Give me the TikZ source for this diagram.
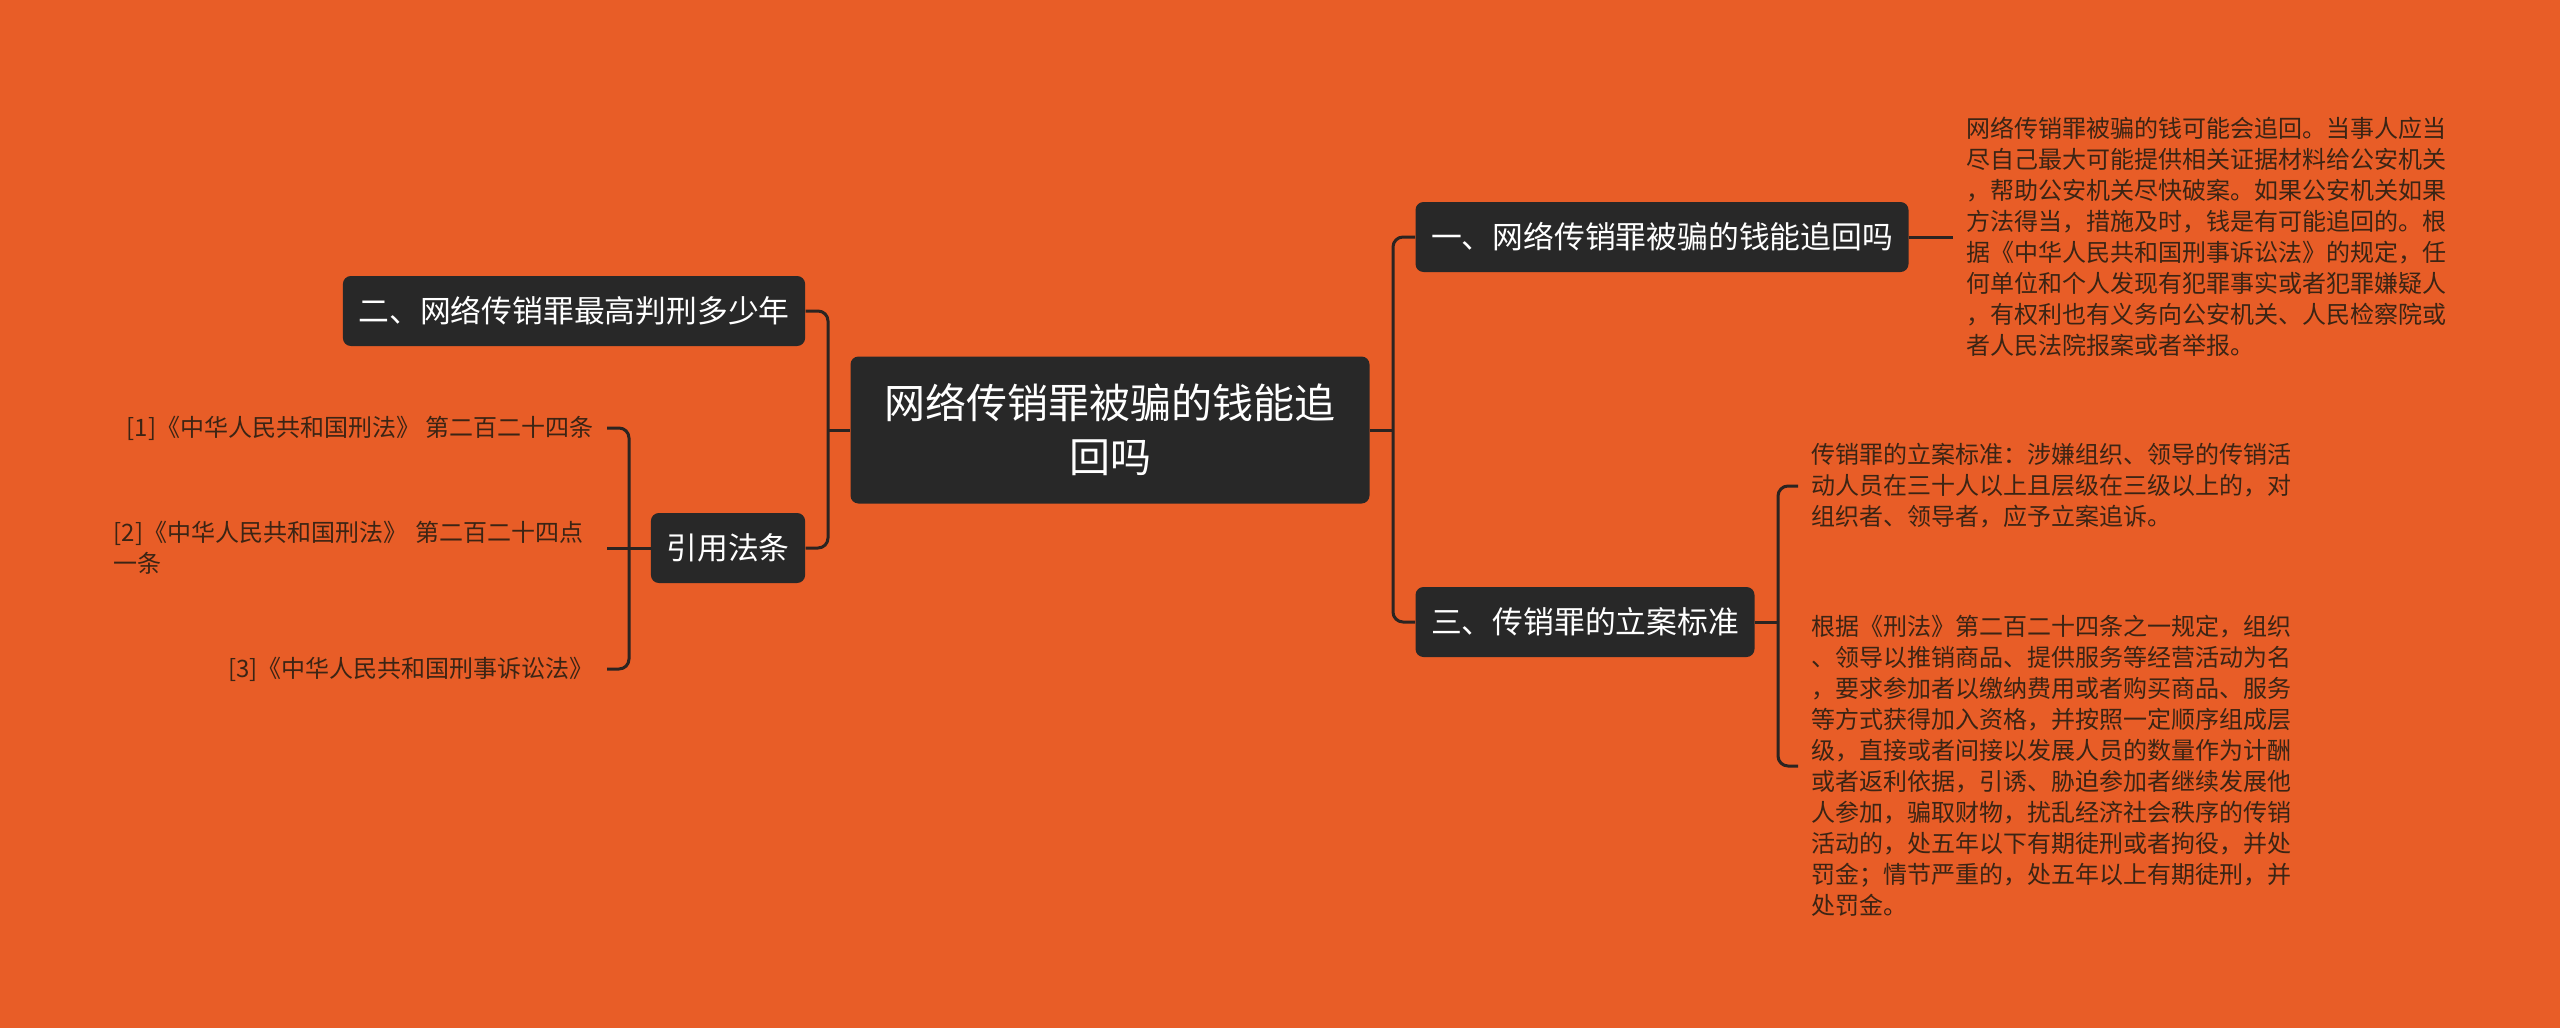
\documentclass[tikz,border=0pt]{standalone}
\usepackage{fontspec}
\setmainfont{Noto Sans CJK SC}
\usepackage{tikz}
\usetikzlibrary{positioning}

\definecolor{bgorange}{HTML}{E85D27}
\definecolor{boxgray}{HTML}{282828}
\definecolor{linedark}{HTML}{2B2421}
\definecolor{leafbrown}{HTML}{3B2414}

\begin{document}
\begin{tikzpicture}[
        x=0.5pt, y=-0.5pt, % one unit = one pixel of the reference
        rootbox/.style={fill=boxgray, text=white, rounded corners=4pt, align=center,
                        font=\fontsize{20.5}{27}\selectfont,
                        minimum width=259.5pt, minimum height=73.5pt},
        topic/.style={fill=boxgray, text=white, rounded corners=4pt,
                      font=\fontsize{15.4}{18}\selectfont,
                      inner xsep=7.75pt, minimum height=35pt},
        leaf/.style={text=leafbrown, align=left, inner xsep=6.5pt, inner ysep=0pt,
                     font=\fontsize{12}{15.5}\selectfont},
        link/.style={draw=linedark, line width=1.5pt, rounded corners=5pt}
    ]
    \fill[bgorange] (0,0) rectangle (2560,1028);
    \useasboundingbox (0,0) rectangle (2560,1028);

    \node[rootbox] (root) at (1110,430) {网络传销罪被骗的钱能追\\回吗};

    % left side
    \node[topic] (penalty) at (574,311) {二、网络传销罪最高判刑多少年};
    \node[topic] (cite) at (728,548) {引用法条};
    \node[leaf, anchor=east] (law1) at (607,428) {[1]《中华人民共和国刑法》 第二百二十四条};
    \node[leaf, anchor=east, text width=240pt] (law2) at (607,548)
        {[2]《中华人民共和国刑法》 第二百二十四点\\一条};
    \node[leaf, anchor=east] (law3) at (607,669) {[3]《中华人民共和国刑事诉讼法》};

    % right side
    \node[topic] (recover) at (1662,237) {一、网络传销罪被骗的钱能追回吗};
    \node[topic] (standard) at (1585,622) {三、传销罪的立案标准};
    \node[leaf, anchor=west] (recoverText) at (1953,237)
        {网络传销罪被骗的钱可能会追回。当事人应当\\
         尽自己最大可能提供相关证据材料给公安机关\\
         ，帮助公安机关尽快破案。如果公安机关如果\\
         方法得当，措施及时，钱是有可能追回的。根\\
         据《中华人民共和国刑事诉讼法》的规定，任\\
         何单位和个人发现有犯罪事实或者犯罪嫌疑人\\
         ，有权利也有义务向公安机关、人民检察院或\\
         者人民法院报案或者举报。};
    \node[leaf, anchor=west] (standardA) at (1798,486)
        {传销罪的立案标准：涉嫌组织、领导的传销活\\
         动人员在三十人以上且层级在三级以上的，对\\
         组织者、领导者，应予立案追诉。};
    \node[leaf, anchor=west] (standardB) at (1798,766)
        {根据《刑法》第二百二十四条之一规定，组织\\
         、领导以推销商品、提供服务等经营活动为名\\
         ，要求参加者以缴纳费用或者购买商品、服务\\
         等方式获得加入资格，并按照一定顺序组成层\\
         级，直接或者间接以发展人员的数量作为计酬\\
         或者返利依据，引诱、胁迫参加者继续发展他\\
         人参加，骗取财物，扰乱经济社会秩序的传销\\
         活动的，处五年以下有期徒刑或者拘役，并处\\
         罚金；情节严重的，处五年以上有期徒刑，并\\
         处罚金。};

    % branch points
    \coordinate (spineL) at (828,430);
    \coordinate (spineR) at (1393,430);
    \coordinate (spineC) at (629,548);
    \coordinate (spineS) at (1778,622);

    % connectors
    \draw[link] (root.west) -- (spineL);
    \draw[link] (penalty.east) -| (spineL) |- (cite.east);
    \draw[link] (cite.west) -- (spineC);
    \draw[link] (law1.east) -| (spineC) |- (law3.east);
    \draw[link] (law2.east) -- (spineC);
    \draw[link] (root.east) -- (spineR);
    \draw[link] (recover.west) -| (spineR) |- (standard.west);
    \draw[link] (recover.east) -- (recoverText.west);
    \draw[link] (standard.east) -- (spineS);
    \draw[link] (standardA.west) -| (spineS) |- (standardB.west);

\end{tikzpicture}
\end{document}
